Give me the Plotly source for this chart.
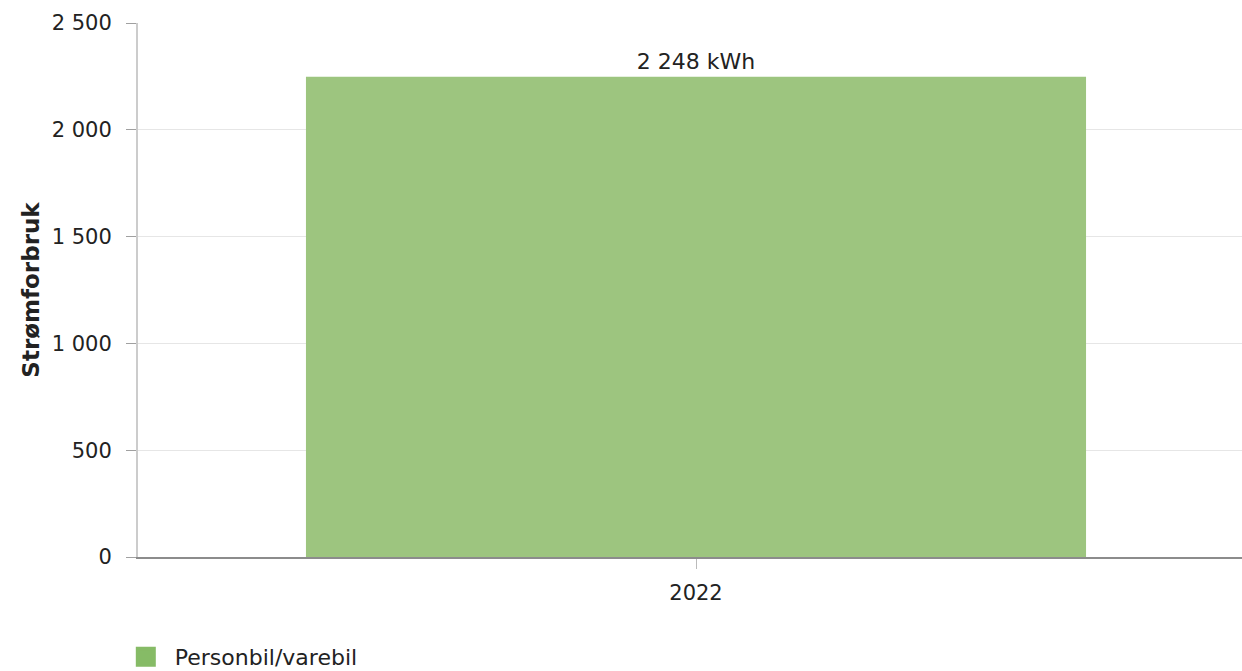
import plotly.graph_objects as go

categories = ["2022"]
values = [2248]
series_name = "Personbil/varebil"
label_texts = ["2 248 kWh"]
y_ticks = [0, 500, 1000, 1500, 2000, 2500]
y_tick_labels = ["0", "500", "1 000", "1 500", "2 000", "2 500"]

font = "DejaVu Sans, Verdana, sans-serif"
fs = 21

fig = go.Figure()
fig.add_trace(go.Bar(
    x=categories, y=values, name=series_name,
    marker=dict(color="#9dc57f", line=dict(width=0)),
    text=label_texts, textposition="outside", cliponaxis=False,
    textfont=dict(size=22, color="#222222", family=font),
    width=0.699, showlegend=False,
))
fig.add_trace(go.Scatter(
    x=[None], y=[None], mode="markers", name=series_name,
    marker=dict(symbol="square", size=16, color="#86bb66",
                line=dict(color="#86bb66", width=4)),
))

fig.update_layout(
    width=1256, height=671,
    margin=dict(l=138, r=2, t=23, b=114),
    paper_bgcolor="white", plot_bgcolor="white",
    font=dict(family=font, size=fs, color="#222222"),
    legend=dict(orientation="h", xref="container", yref="container",
                x=0.093, xanchor="left", y=0.021, yanchor="middle",
                itemwidth=48,
                font=dict(size=22, color="#222222"), itemsizing="trace",
                bgcolor="rgba(0,0,0,0)"),
    xaxis=dict(
        showline=True, linecolor="#8c8c8c", linewidth=2,
        ticks="outside", ticklen=10, tickcolor="#bbbbbb",
        tickfont=dict(size=fs), showgrid=False, automargin=False,
        ticklabelstandoff=6,
    ),
    yaxis=dict(
        range=[0, 2500], tickvals=y_ticks, ticktext=y_tick_labels,
        showgrid=True, gridcolor="#e6e6e6", gridwidth=1,
        showline=True, linecolor="#cccccc", linewidth=2,
        ticks="outside", ticklen=10, tickcolor="#a0a0a0",
        tickfont=dict(size=fs), zeroline=False, automargin=False,
        ticklabelstandoff=10,
        title=dict(text="<b>Strømforbruk</b>", font=dict(size=23), standoff=6),
    ),
)

fig.write_html(
    "out.html",
    config={"displayModeBar": False},
    post_script="document.body.style.margin='0';document.body.style.overflow='hidden';",
)
